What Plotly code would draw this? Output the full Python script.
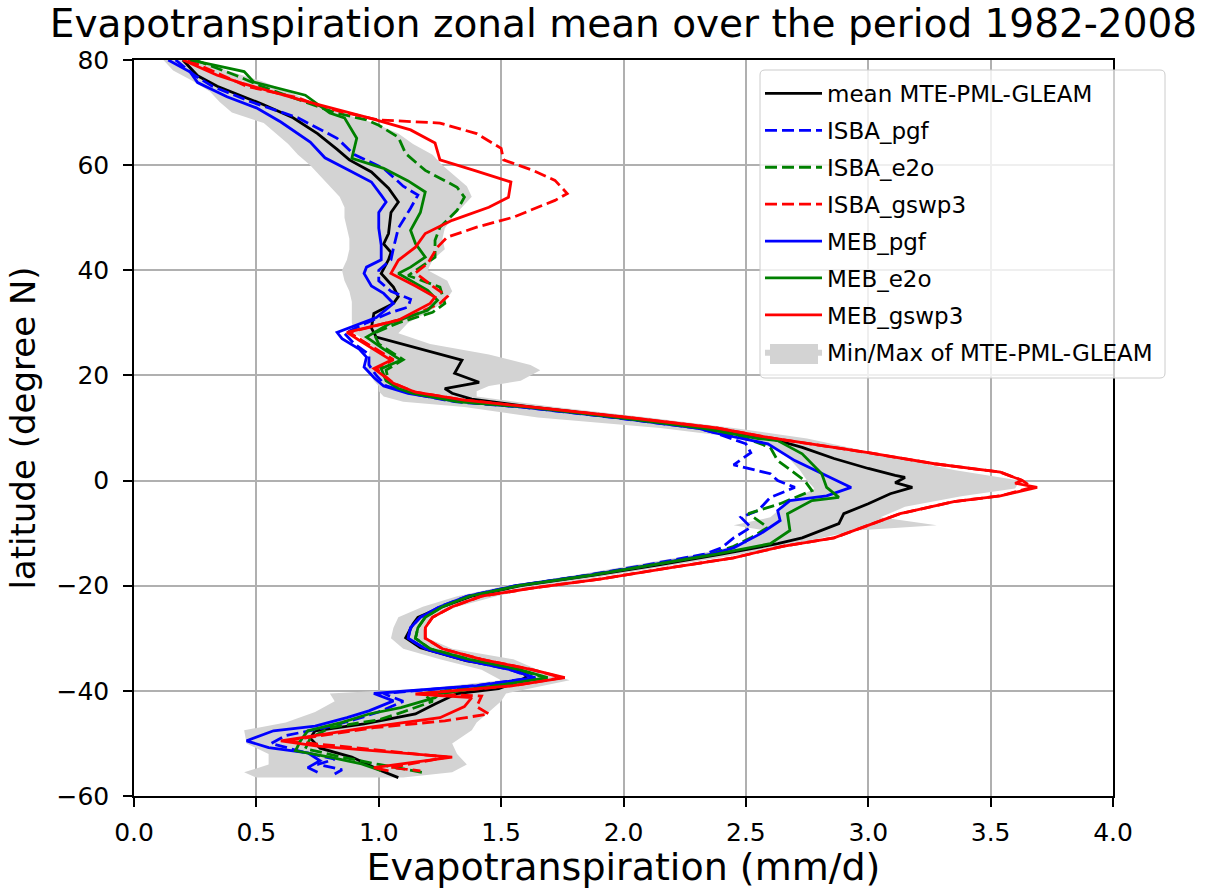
import plotly.graph_objects as go

# ---- zonal-mean evapotranspiration (mm/d) by latitude (degree N) ----
lat_mean = [80, 77, 75, 71.5, 69, 66, 63, 61, 58.7, 55.6, 53, 51, 47, 45, 43.4, 42, 39.4, 36.8, 35, 33.7,
            31.8, 29, 27.3, 25, 22.9, 20.4, 18.7, 17.5, 16.6, 15.5, 14, 12, 10, 8, 6.3, 4.2, 2.3, 1.0, 0.6, -0.4,
            -1.3, -2.5, -4.4, -6.3, -8.2, -10.9, -12, -14, -16, -18, -20, -22, -24.2, -26, -27.3, -29.9, -31.8, -34.3, -35.6, -37.1,
            -38, -39.6, -40.5, -42.5, -44.4, -46.3, -47.6, -49, -50.9, -52.6, -55.2, -56.5]
et_mean = [0.20, 0.26, 0.34, 0.53, 0.65, 0.75, 0.83, 0.88, 0.97, 1.04, 1.08, 1.05, 1.04, 1.02, 1.05, 1.04, 1.01, 1.06, 1.08, 1.06,
           0.98, 0.97, 0.99, 1.17, 1.34, 1.31, 1.41, 1.27, 1.30, 1.38, 1.62, 2.00, 2.35, 2.60, 2.73, 2.86, 3.00, 3.11, 3.15, 3.11,
           3.18, 3.09, 3.00, 2.90, 2.88, 2.73, 2.63, 2.40, 2.15, 1.88, 1.58, 1.38, 1.25, 1.16, 1.14, 1.11, 1.17, 1.36, 1.53, 1.61,
           1.58, 1.49, 1.32, 1.23, 1.15, 0.94, 0.74, 0.72, 0.76, 0.89, 1.01, 1.08]

lat_isba_pgf = [80, 77, 75, 72, 69, 65.1, 62, 59.4, 56, 54.3, 51.8, 48, 44.2, 42, 40, 38, 36, 34.5, 33, 32,
                30, 28, 26, 24, 22, 20, 18, 16.6, 15, 14, 12, 10, 9, 7, 5.3, 3, 1.3, 0, -1.3, -3.2,
                -5.7, -7, -8.9, -10.9, -12.8, -14, -16, -18, -20, -22, -24, -26, -28, -30, -32, -34, -36, -37.5, -39, -40.5,
                -42, -44, -45.5, -47, -48.5, -50, -51.5, -53, -54, -55, -55.8]
et_isba_pgf = [0.17, 0.25, 0.32, 0.48, 0.67, 0.83, 0.90, 1.02, 1.10, 1.16, 1.13, 1.08, 1.06, 1.05, 1.00, 1.00, 1.05, 1.13, 1.12, 1.05,
               0.95, 0.86, 0.90, 0.96, 0.96, 0.99, 1.03, 1.13, 1.31, 1.58, 1.96, 2.30, 2.38, 2.50, 2.52, 2.45, 2.60, 2.63, 2.70, 2.60,
               2.55, 2.48, 2.52, 2.45, 2.40, 2.33, 2.10, 1.85, 1.56, 1.36, 1.25, 1.17, 1.13, 1.12, 1.19, 1.34, 1.54, 1.63, 1.40, 1.02,
               1.10, 1.00, 0.90, 0.78, 0.62, 0.56, 0.68, 0.82, 0.75, 0.85, 0.82]

lat_isba_e2o = [80, 77, 75, 72, 70, 68.6, 67.6, 65.3, 62.2, 59, 55.8, 53.9, 51.4, 48.2, 45.7, 42.5, 40.6, 39, 36.8, 33.7,
                32, 30, 28, 26, 23, 21, 19, 17, 15, 14, 12, 10, 8, 6.3, 3.8, 2, 0, -1.9, -4.4, -6.3,
                -8.9, -10.9, -12.5, -14, -16, -18, -20, -22, -24, -26, -28, -30, -32, -34, -36, -37.5, -39, -40.5, -42, -44,
                -45.5, -47, -49, -51, -52.6, -54, -55.6]
et_isba_e2o = [0.25, 0.42, 0.52, 0.70, 0.82, 0.95, 1.00, 1.08, 1.11, 1.19, 1.32, 1.35, 1.32, 1.25, 1.23, 1.23, 1.17, 1.12, 1.25, 1.27,
               1.22, 1.08, 0.98, 1.00, 1.10, 1.03, 1.04, 1.10, 1.33, 1.60, 1.98, 2.32, 2.50, 2.60, 2.63, 2.68, 2.74, 2.77, 2.64, 2.51,
               2.59, 2.52, 2.45, 2.36, 2.12, 1.86, 1.57, 1.37, 1.26, 1.19, 1.16, 1.15, 1.21, 1.37, 1.57, 1.68, 1.45, 1.18, 1.22, 1.10,
               1.00, 0.80, 0.72, 0.70, 0.85, 1.00, 1.19]

lat_isba_gswp3 = [80, 77, 75, 72.8, 71.4, 70, 68.6, 68, 66, 63.2, 61, 59, 57.1, 54.6, 53.3, 50.1, 48.2, 46.3, 44.4, 41.3,
                  39.5, 37, 35, 33.7, 31, 28.2, 26.7, 23, 21.3, 18.5, 16.8, 15.3, 14, 12, 10, 8.2, 5.3, 3.2, 1.6, 0,
                  -1.3, -2.9, -4, -6.3, -8.5, -10.9, -12.5, -14.7, -16.5, -18.7, -20.5, -22, -24, -26, -28, -30, -32, -34, -36, -37.5,
                  -39, -40.5, -41, -43, -44.4, -45.7, -47, -49.5, -52.6, -54.6, -55.2]
et_isba_gswp3 = [0.22, 0.36, 0.46, 0.67, 0.75, 0.86, 1.00, 1.25, 1.40, 1.50, 1.51, 1.63, 1.72, 1.77, 1.72, 1.55, 1.40, 1.28, 1.24, 1.20,
                 1.15, 1.22, 1.28, 1.25, 1.12, 0.88, 0.93, 1.06, 0.99, 1.06, 1.15, 1.35, 1.62, 2.02, 2.38, 2.59, 3.00, 3.27, 3.54, 3.63,
                 3.67, 3.54, 3.35, 3.13, 3.00, 2.86, 2.65, 2.45, 2.20, 1.91, 1.62, 1.42, 1.30, 1.22, 1.19, 1.19, 1.26, 1.42, 1.63, 1.75,
                 1.55, 1.20, 1.42, 1.40, 1.45, 1.27, 0.98, 0.62, 1.28, 1.05, 1.17]

lat_meb_pgf = [80, 77.7, 75.7, 73, 70.9, 68.2, 64.4, 61.4, 59, 56.8, 54.3, 53, 51, 48, 44.8, 42, 40.6, 39.4, 37, 35.6,
               33.7, 31, 28.2, 27, 25, 23.5, 21.6, 19.6, 18, 16.6, 15.2, 14, 12, 10, 9, 7, 3.8, 1, -1.3, -2.9,
               -3.8, -5.7, -7.6, -10.1, -12.8, -14, -16, -18, -20, -22, -24, -26, -28, -30, -32, -34, -36, -37.5, -39, -40.5,
               -41.9, -43.8, -45.1, -46.7, -47.6, -49.5, -50.8, -51.8, -53.3, -54.6, -55.5]
et_meb_pgf = [0.14, 0.23, 0.26, 0.38, 0.50, 0.60, 0.72, 0.78, 0.88, 0.97, 1.01, 1.03, 1.00, 1.00, 1.01, 1.01, 0.95, 0.94, 0.97, 1.02,
              1.06, 0.99, 0.83, 0.85, 0.92, 0.95, 0.94, 0.98, 1.02, 1.12, 1.30, 1.58, 1.97, 2.30, 2.38, 2.59, 2.70, 2.83, 2.93, 2.83,
              2.68, 2.63, 2.64, 2.56, 2.45, 2.36, 2.12, 1.86, 1.56, 1.36, 1.25, 1.17, 1.13, 1.12, 1.19, 1.34, 1.54, 1.64, 1.40, 0.98,
              1.06, 0.96, 0.87, 0.74, 0.57, 0.46, 0.55, 0.71, 0.76, 0.71, 0.75]

lat_meb_e2o = [80, 77.8, 75.8, 73.3, 69.9, 69, 65.1, 61.3, 59.4, 57, 54.9, 51, 47.6, 45.1, 42.5, 40.6, 39.4, 36.2, 34.3, 32.4,
               30, 27.3, 25, 22.9, 21.3, 19, 17.5, 16.6, 15, 14, 12, 10, 8, 7.6, 5.1, 1.3, -1.3, -3.2, -3.8, -6.3,
               -9.5, -12, -14, -16, -18, -20, -22, -24, -26, -28, -30, -32, -34, -36, -37.5, -39, -40.5, -41.3, -43.2, -44.4,
               -46, -47.6, -49.5, -51.4, -52.6, -53.9, -55.2]
et_meb_e2o = [0.23, 0.45, 0.49, 0.70, 0.80, 0.86, 0.91, 0.89, 1.02, 1.12, 1.19, 1.17, 1.13, 1.15, 1.19, 1.13, 1.08, 1.20, 1.24, 1.20,
              1.05, 0.95, 1.02, 1.09, 1.01, 1.03, 1.08, 1.14, 1.32, 1.60, 1.98, 2.32, 2.55, 2.63, 2.73, 2.81, 2.83, 2.88, 2.77, 2.67,
              2.68, 2.60, 2.38, 2.13, 1.87, 1.57, 1.37, 1.26, 1.19, 1.16, 1.15, 1.21, 1.37, 1.58, 1.69, 1.48, 1.25, 1.23, 1.09, 0.96,
              0.85, 0.71, 0.68, 0.66, 0.80, 0.93, 1.01]

lat_meb_gswp3 = [80, 77.1, 75.6, 72.4, 69, 66.7, 64.2, 61, 59, 56.8, 53.9, 52, 49.5, 47, 44.4, 41.9, 39.4, 37, 34.9, 33.7,
                 30.5, 28.2, 26.7, 22.9, 21.3, 18.5, 16.8, 15.3, 14, 12, 10, 8.2, 5.3, 3.2, 1.6, 0.5, 0, -0.5, -1.3, -2.9,
                 -4, -6.3, -8.5, -10.9, -12.5, -14.7, -16.5, -18.7, -20.5, -22, -24, -26, -28, -30, -32, -34, -36, -37.5, -39, -40.6,
                 -41.3, -43, -45.1, -47, -49.5, -50.5, -52.6, -54.6, -55.2]
et_meb_gswp3 = [0.20, 0.34, 0.44, 0.68, 0.96, 1.13, 1.23, 1.25, 1.39, 1.54, 1.53, 1.45, 1.30, 1.19, 1.15, 1.08, 1.05, 1.15, 1.23, 1.21,
                1.08, 0.87, 0.92, 1.05, 0.98, 1.06, 1.15, 1.35, 1.62, 2.02, 2.38, 2.59, 3.00, 3.27, 3.54, 3.60, 3.63, 3.60, 3.69, 3.54,
                3.35, 3.13, 3.00, 2.86, 2.65, 2.45, 2.20, 1.91, 1.62, 1.42, 1.30, 1.22, 1.19, 1.19, 1.26, 1.42, 1.63, 1.76, 1.55, 1.15,
                1.38, 1.35, 1.25, 0.95, 0.60, 0.75, 1.30, 0.98, 1.04]

# envelope (min / max) of the three observation products
lat_band = [80, 78, 76, 74, 72, 70, 68, 66, 64, 62, 60, 58, 56, 54, 52, 50, 48, 46, 44, 42,
            40, 38, 36, 34, 32, 30, 28, 26, 24, 22, 21, 20, 19, 18, 17, 16, 15, 14, 12, 10,
            8, 6, 4, 2, 0, -1.5, -3, -5, -7, -8.5, -9.5, -12, -14, -16, -18, -20, -22, -24, -26, -28,
            -30, -32, -34, -36, -38, -39.5, -40.5, -42, -44, -46, -47.5, -50, -52, -54, -55.5, -56.5]
et_band_min = [0.12, 0.16, 0.24, 0.31, 0.35, 0.40, 0.53, 0.58, 0.63, 0.67, 0.72, 0.76, 0.80, 0.84, 0.86, 0.86, 0.87, 0.88, 0.88, 0.87,
               0.85, 0.86, 0.88, 0.89, 0.89, 0.89, 0.90, 0.97, 0.96, 0.95, 0.95, 0.97, 0.98, 1.00, 1.00, 1.02, 1.10, 1.35, 1.65, 2.15,
               2.50, 2.62, 2.68, 2.72, 2.75, 2.78, 2.72, 2.65, 2.60, 2.45, 2.58, 2.50, 2.30, 2.05, 1.80, 1.52, 1.32, 1.18, 1.08, 1.06,
               1.05, 1.10, 1.25, 1.42, 1.50, 1.20, 0.80, 0.82, 0.74, 0.62, 0.45, 0.46, 0.55, 0.55, 0.45, 0.50]
et_band_max = [0.26, 0.38, 0.52, 0.63, 0.73, 0.84, 0.98, 1.08, 1.14, 1.22, 1.26, 1.31, 1.36, 1.38, 1.34, 1.30, 1.27, 1.26, 1.27, 1.22,
               1.20, 1.28, 1.30, 1.27, 1.20, 1.12, 1.08, 1.21, 1.45, 1.62, 1.66, 1.62, 1.58, 1.45, 1.40, 1.40, 1.55, 1.72, 2.10, 2.45,
               2.75, 2.95, 3.15, 3.35, 3.62, 3.60, 3.38, 3.15, 3.05, 3.28, 2.95, 2.70, 2.48, 2.22, 1.95, 1.68, 1.48, 1.32, 1.22, 1.18,
               1.20, 1.30, 1.55, 1.65, 1.78, 1.62, 1.52, 1.50, 1.45, 1.40, 1.38, 1.30, 1.32, 1.36, 1.30, 1.10]

x_ticks = [0.0, 0.5, 1.0, 1.5, 2.0, 2.5, 3.0, 3.5, 4.0]
y_ticks = [-60, -40, -20, 0, 20, 40, 60, 80]

FONT = "DejaVu Sans"
DASH = "12px,5px"
BAND_GRAY = "#d3d3d3"

# figure geometry in pixels
W, H = 1214, 889
ML, MR, MT, MB = 134, 101, 60, 93
PW, PH = W - ML - MR, H - MT - MB


def px_to_paper(x, y):
    return (x - ML) / PW, (H - MB - y) / PH


fig = go.Figure()

# shaded observation envelope (drawn underneath the curves)
fig.add_trace(go.Scatter(
    x=et_band_min + et_band_max[::-1],
    y=lat_band + lat_band[::-1],
    fill="toself", fillcolor=BAND_GRAY, mode="lines",
    line=dict(width=0, color=BAND_GRAY),
    name="Min/Max of MTE-PML-GLEAM", legendrank=8, legendgroup="g8",
    hoverinfo="skip",
))

series = [
    ("mean MTE-PML-GLEAM", lat_mean, et_mean, "black", "solid"),
    ("ISBA_pgf", lat_isba_pgf, et_isba_pgf, "blue", DASH),
    ("ISBA_e2o", lat_isba_e2o, et_isba_e2o, "green", DASH),
    ("ISBA_gswp3", lat_isba_gswp3, et_isba_gswp3, "red", DASH),
    ("MEB_pgf", lat_meb_pgf, et_meb_pgf, "blue", "solid"),
    ("MEB_e2o", lat_meb_e2o, et_meb_e2o, "green", "solid"),
    ("MEB_gswp3", lat_meb_gswp3, et_meb_gswp3, "red", "solid"),
]
for rank, (name, la, et, color, dash) in enumerate(series, start=1):
    fig.add_trace(go.Scatter(
        x=et, y=la, mode="lines", name=name,
        line=dict(color=color, width=2.8, dash=dash),
        legendrank=rank, legendgroup=f"g{rank}",
    ))

# legend frame (semi-transparent, rounded) and the filled patch for the envelope entry
bx0, by0 = px_to_paper(760, 378)
bx1, by1 = px_to_paper(1165, 70)
rx, ry = 5 / PW, 5 / PH
frame_path = (f"M{bx0 + rx},{by0} L{bx1 - rx},{by0} Q{bx1},{by0} {bx1},{by0 + ry} "
              f"L{bx1},{by1 - ry} Q{bx1},{by1} {bx1 - rx},{by1} L{bx0 + rx},{by1} "
              f"Q{bx0},{by1} {bx0},{by1 - ry} L{bx0},{by0 + ry} Q{bx0},{by0} {bx0 + rx},{by0} Z")
px0, py0 = px_to_paper(770, 364)
px1, py1 = px_to_paper(818, 344)
shapes = [
    dict(type="path", xref="paper", yref="paper", path=frame_path, layer="above",
         fillcolor="rgba(255,255,255,0.8)", line=dict(color="#cccccc", width=1)),
    dict(type="rect", xref="paper", yref="paper", x0=px0, y0=py0, x1=px1, y1=py1,
         layer="above", fillcolor=BAND_GRAY, line=dict(width=0)),
]

axis_common = dict(
    showgrid=True, gridcolor="#b0b0b0", gridwidth=1.5,
    showline=True, linecolor="black", linewidth=1.5, mirror=True,
    ticks="outside", ticklen=9, tickwidth=1.5, tickcolor="black",
    zeroline=False, automargin=False,
    tickfont=dict(family=FONT, size=25, color="black"),
)

lx, ly = px_to_paper(760, 72)
fig.update_layout(
    width=W, height=H,
    margin=dict(l=ML, r=MR, t=MT, b=MB),
    paper_bgcolor="white", plot_bgcolor="white",
    title=dict(text="Evapotranspiration zonal mean over the period 1982-2008",
               x=0.5, xref="paper", xanchor="center",
               y=1 - 23 / H, yref="container", yanchor="middle",
               font=dict(family=FONT, size=39, color="black")),
    xaxis=dict(range=[0, 4], tickvals=x_ticks, tickformat=".1f", ticklabelstandoff=4,
               title=dict(text="Evapotranspiration (mm/d)", standoff=16,
                          font=dict(family=FONT, size=38, color="black")),
               **axis_common),
    yaxis=dict(range=[-60, 80], tickvals=y_ticks, ticklabelstandoff=9,
               title=dict(text="latitude (degree N)", standoff=11,
                          font=dict(family=FONT, size=34, color="black")),
               **axis_common),
    legend=dict(x=lx, y=ly, xanchor="left", yanchor="top",
                bgcolor="rgba(0,0,0,0)", borderwidth=0,
                font=dict(family=FONT, size=23, color="black"),
                itemwidth=57, tracegroupgap=4),
    shapes=shapes,
    showlegend=True,
)

fig.write_html("out.html")
